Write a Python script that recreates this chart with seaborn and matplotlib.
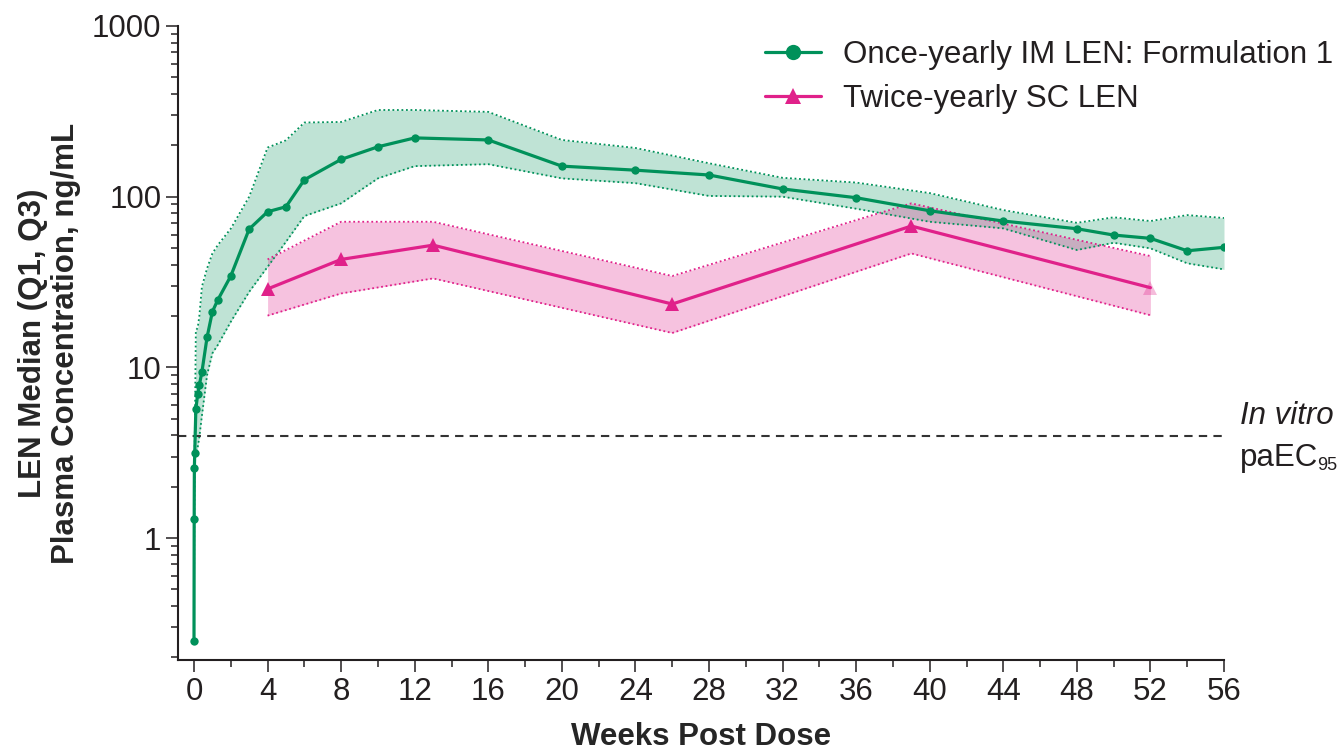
import matplotlib

matplotlib.use("Agg")
import matplotlib.pyplot as plt
import numpy as np
import pandas as pd
import seaborn as sns
from matplotlib.lines import Line2D
from matplotlib.ticker import FixedLocator, FuncFormatter, LogLocator, MultipleLocator

# --- Données ---
# Once-yearly IM LEN: Formulation 1 (médiane, Q1, Q3 en ng/mL)
im_weeks = [0, 0.01, 0.02, 0.04, 0.1, 0.2, 0.29, 0.43, 0.71, 1, 1.29, 2, 3, 4, 5, 6,
            8, 10, 12, 16, 20, 24, 28, 32, 36, 40, 44, 48, 50, 52, 54, 56]
im_median = [0.25, 1.29, 2.58, 3.13, 5.7, 6.95, 7.87, 9.4, 15.0, 21.2, 24.8, 34.3, 64.6, 81.6,
             87.3, 125.6, 165.4, 196, 221, 215, 151, 143, 134, 111, 98.6, 82.7, 72, 64.9,
             59.6, 57, 48.2, 50.5]
im_q1 = [0.25, 1.2, 2.4, 2.9, 3.0, 3.4, 3.9, 5.2, 9.0, 12.1, 13.5, 18.5, 27.7, 38.8, 54.4, 77,
         91.4, 128, 151, 155, 128, 120, 101, 100, 85, 71.3, 65.2, 48.7, 53.7, 49.8, 40.7, 37.5]
im_q3 = [0.25, 1.4, 2.8, 3.6, 16.5, 17, 20, 29.7, 38, 46.5, 52, 65, 100, 194, 214, 272,
         274, 322, 322, 314, 215, 193, 157, 129, 121, 105, 83.5, 70.3, 75.7, 72, 78, 75]

# Twice-yearly SC LEN
sc_weeks = [4, 8, 13, 26, 39, 52]
sc_median = [28.8, 42.9, 52, 23.5, 67.3, 29.3]
sc_q1 = [20.1, 27.1, 33.2, 15.9, 46.5, 20.2]
sc_q3 = [42.9, 71.3, 71.3, 34.3, 91.4, 44.9]

paec95 = 3.96
x_ticks = list(range(0, 57, 4))
y_ticks = [1, 10, 100, 1000]

labels = ["Once-yearly IM LEN: Formulation 1", "Twice-yearly SC LEN"]

GREEN = "#00915A"
PINK = "#E0218A"
TEXT = "#231F20"
FS = 22.5

sns.set_style("ticks")
plt.rcParams["font.family"] = ["Liberation Sans", "DejaVu Sans"]
plt.rcParams["text.color"] = TEXT

df_im = pd.DataFrame({"week": im_weeks, "median": im_median, "q1": im_q1, "q3": im_q3})
df_sc = pd.DataFrame({"week": sc_weeks, "median": sc_median, "q1": sc_q1, "q3": sc_q3})

fig = plt.figure(figsize=(13.4, 7.51), dpi=100)
ax = fig.add_axes([178 / 1340, 91 / 751, (1224 - 178) / 1340, (660 - 26) / 751])

# bandes Q1-Q3
ax.fill_between(df_im["week"], df_im["q1"], df_im["q3"], color=GREEN, alpha=0.25,
                linewidth=0, zorder=1)
ax.fill_between(df_sc["week"], df_sc["q1"], df_sc["q3"], color=PINK, alpha=0.27,
                linewidth=0, zorder=1)
for df, col in [(df_im, GREEN), (df_sc, PINK)]:
    for q in ["q1", "q3"]:
        ax.plot(df["week"], df[q], color=col, linestyle=(0, (1, 1.5)), linewidth=1.3, zorder=2)

# seuil paEC95
ax.axhline(paec95, xmin=0, xmax=0.998, color="#333333", linestyle=(0, (4, 3)),
           linewidth=1.5, zorder=2)

# médianes
sns.lineplot(data=df_im, x="week", y="median", color=GREEN, linewidth=2.3, marker="o",
             markersize=6, markeredgewidth=0, ax=ax, zorder=4)
sns.lineplot(data=df_sc, x="week", y="median", color=PINK, linewidth=2.3, ax=ax, zorder=4)
ax.plot(df_sc["week"][:-1], df_sc["median"][:-1], linestyle="none", marker="^",
        markersize=10, color=PINK, markeredgewidth=0, zorder=5)
ax.plot(df_sc["week"].iloc[-1:], df_sc["median"].iloc[-1:], linestyle="none", marker="^",
        markersize=10, color=PINK, alpha=0.3, markeredgewidth=0, zorder=5)

ax.set_yscale("log")
ax.set_xlim(-0.87, 56)
ax.set_ylim(0.193, 1000)
ax.xaxis.set_major_locator(FixedLocator(x_ticks))
ax.xaxis.set_minor_locator(MultipleLocator(2))
ax.yaxis.set_major_locator(FixedLocator(y_ticks))
ax.yaxis.set_minor_locator(LogLocator(base=10, subs=np.arange(2, 10)))
ax.yaxis.set_minor_formatter(FuncFormatter(lambda v, p: ""))
ax.yaxis.set_major_formatter(FuncFormatter(lambda v, p: f"{v:g}"))

sns.despine(ax=ax)
for s in ["left", "bottom"]:
    ax.spines[s].set_linewidth(1.5)
    ax.spines[s].set_color(TEXT)
ax.tick_params(which="major", length=8.5, width=1.1, labelsize=FS, pad=3.5, colors=TEXT)
ax.tick_params(which="minor", length=5, width=1.1, colors=TEXT)

ax.set_xlabel("Weeks Post Dose", fontsize=FS, fontweight="bold", labelpad=11)
ax.set_ylabel("LEN Median (Q1, Q3)\nPlasma Concentration, ng/mL", fontsize=FS,
              fontweight="bold", labelpad=8, linespacing=1.1)

fig.text(1240 / 1340, 1 - 416 / 751, "In vitro", fontsize=FS, style="italic", va="center")
t_pa = fig.text(1240 / 1340, 1 - 466 / 751, "paEC", fontsize=FS, va="baseline")
fig.canvas.draw()
bb = t_pa.get_window_extent()
fig.text((bb.x1 - 1) / 1340, 1 - 470 / 751, "95", fontsize=13, va="baseline")

handles = [
    Line2D([], [], color=GREEN, linewidth=2.3, marker="o", markersize=11, markeredgewidth=0),
    Line2D([], [], color=PINK, linewidth=2.3, marker="^", markersize=12, markeredgewidth=0),
]
fig.legend(handles, labels, loc="upper left", bbox_to_anchor=(765 / 1340, 1 - 40 / 751),
           frameon=False, fontsize=FS, handlelength=1.8, handletextpad=0.7,
           labelspacing=0.45, borderpad=0, borderaxespad=0)

fig.savefig("out.png", dpi=100)
